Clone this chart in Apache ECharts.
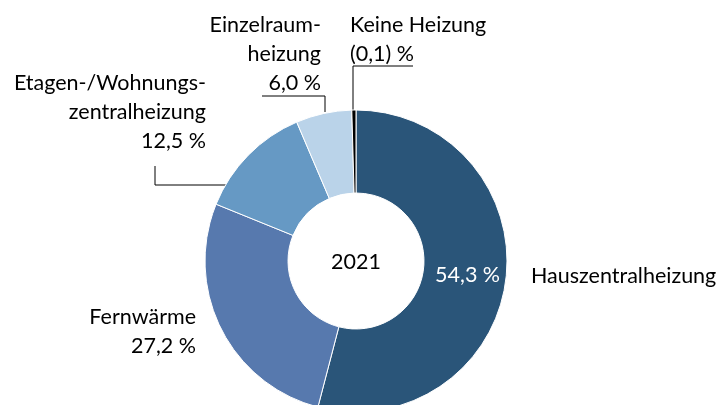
<!DOCTYPE html>
<html>
<head>
<meta charset="utf-8">
<script src="https://cdn.jsdelivr.net/npm/echarts@6/dist/echarts.min.js"></script>
<style>html,body{margin:0;padding:0;background:#fff}#c{width:724px;height:405px}</style>
</head>
<body>
<div id="c"></div>
<script>
const categories = ["Hauszentralheizung", "Fernwärme", "Etagen-/Wohnungs-\nzentralheizung", "Einzelraum-\nheizung", "Keine Heizung"];
const values = [54.3, 27.2, 12.5, 6.0, 0.1];
const colors = ["#2A5579", "#5779AE", "#6699C4", "#BAD3E9", "#000000"];
const centerLabel = "2021";

const CX = 356, CY = 261, R = 151, R0 = 68;
const FONT = "Lato, 'Noto Sans', sans-serif";
const FS = 21.5;

function fmt(v) { return v.toFixed(1).replace('.', ','); }

const chart = echarts.init(document.getElementById('c'), null, {renderer: 'canvas'});

const data = categories.map((n, i) => ({
  name: n,
  value: values[i],
  itemStyle: {color: colors[i]},
  labelLine: {show: i >= 2}
}));

function outText(p) {
  const i = p.dataIndex;
  if (i === 0) return p.name;
  if (i === 4) return p.name + "\n(" + fmt(p.value) + ") %";
  return p.name + "\n" + fmt(p.value) + " %";
}

// label placements (label anchors and leader line routing)
function layout(p) {
  const i = p.dataIndex;
  const edgeX = y => CX - Math.sqrt(R * R - (CY - y) * (CY - y));
  if (i === 0) return {x: 531, y: 276, align: 'left', verticalAlign: 'middle'};
  if (i === 1) return {x: 196, y: 332, align: 'right', verticalAlign: 'middle'};
  if (i === 2) return {x: 206, y: 112, align: 'right', verticalAlign: 'middle',
    labelLinePoints: [[edgeX(185) + 1, 185], [155, 185], [155, 166]]};
  if (i === 3) return {x: 321, y: 54, align: 'right', verticalAlign: 'middle',
    labelLinePoints: [[325, 112], [325, 96], [262, 96]]};
  if (i === 4) return {x: 350, y: 40, align: 'left', verticalAlign: 'middle',
    labelLinePoints: [[353, 111], [353, 66], [413, 66]]};
}

chart.setOption({
  animation: false,
  graphic: [{
    type: 'text', x: CX, y: CY + 1,
    style: {text: centerLabel, font: FS + "px " + FONT, fill: '#000', textAlign: 'center', textVerticalAlign: 'middle'}
  }],
  series: [{
    type: 'pie',
    center: [CX, CY],
    radius: [R0, R],
    startAngle: 90,
    clockwise: true,
    minAngle: 1.6,
    avoidLabelOverlap: false,
    itemStyle: {borderColor: '#fff', borderWidth: 1},
    label: {
      show: true, position: 'outside', formatter: outText,
      fontFamily: FONT, fontSize: FS, color: '#000', lineHeight: 29
    },
    labelLine: {show: true, lineStyle: {color: '#000', width: 1}, length: 10, length2: 10},
    labelLayout: layout,
    emphasis: {disabled: true},
    data: data
  }, {
    type: 'pie',
    center: [CX, CY],
    radius: [R0, R],
    startAngle: 90,
    clockwise: true,
    minAngle: 1.6,
    silent: true,
    itemStyle: {color: 'rgba(0,0,0,0)'},
    label: {
      show: true, position: 'inside',
      formatter: p => p.dataIndex === 0 ? fmt(p.value) + " %" : '',
      fontFamily: FONT, fontSize: FS, color: '#fff'
    },
    labelLine: {show: false},
    emphasis: {disabled: true},
    data: categories.map((n, i) => ({name: n, value: values[i]}))
  }]
});
</script>
</body>
</html>
